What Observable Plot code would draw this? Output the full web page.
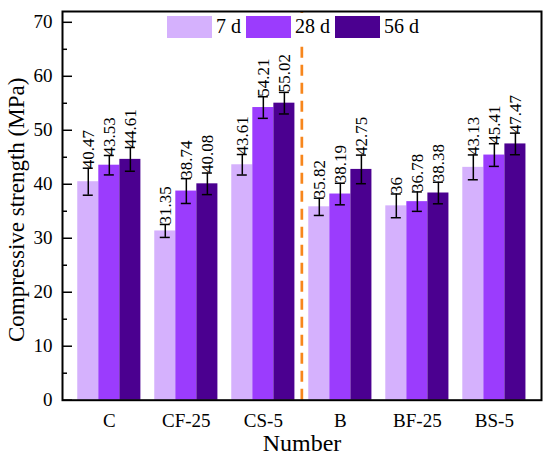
<!DOCTYPE html>
<html><head><meta charset="utf-8">
<script src="https://cdn.jsdelivr.net/npm/d3@7"></script>
<script src="https://cdn.jsdelivr.net/npm/@observablehq/plot@0.6"></script>
<style>
body{margin:0;background:#fff;}
#wrap{position:relative;width:550px;height:459px;}
#legend{position:absolute;left:164px;top:13px;height:27px;background:#fff;display:flex;align-items:center;font-family:"Liberation Serif",serif;font-size:20px;padding:0 3px;color:#000;}
.sw{width:45px;height:22px;display:inline-block;margin-right:4px;}
.lab{margin-right:5px;white-space:nowrap;}
</style></head><body><div id="wrap"></div>
<script>
const groups = ["C","CF-25","CS-5","B","BF-25","BS-5"];
const seriesNames = ["7 d","28 d","56 d"];
const colors = ["#d5b1fd","#9b3cfd","#4b0090"];
const s7  = [40.47, 31.35, 43.61, 35.82, 36, 43.13];
const s28 = [43.53, 38.74, 54.21, 38.19, 36.78, 45.41];
const s56 = [44.61, 40.08, 55.02, 42.75, 38.38, 47.47];
const e7  = [2.5, 1.2, 1.9, 1.6, 2.2, 2.3];
const e28 = [1.8, 2.3, 2.0, 2.0, 1.8, 2.1];
const e56 = [2.2, 2.0, 2.0, 2.65, 2.0, 2.0];
const yTicks = [0,10,20,30,40,50,60,70];
const yMinor = [5,15,25,35,45,55,65];

const values = [s7, s28, s56], errs = [e7, e28, e56];
const groupW = 0.82;
const xDomain = [-0.608, 5.612];
const data = [];
seriesNames.forEach((s, si) => groups.forEach((g, gi) => {
  const x1 = gi - groupW/2 + si*groupW/3;
  data.push({g, s, gi, si, v: values[si][gi], e: errs[si][gi], x1, x2: x1 + groupW/3, xc: x1 + groupW/6});
}));

const font = "Liberation Serif, serif";
const plot = Plot.plot({
  width: 550, height: 459,
  marginLeft: 62, marginRight: 9, marginTop: 11, marginBottom: 59.3,
  style: {fontFamily: font, fontSize: "19px", background: "#fff", color: "#000"},
  x: {domain: xDomain, axis: null},
  y: {domain: [0, 72], axis: null},
  color: {domain: seriesNames, range: colors},
  marks: [
    Plot.ruleX([2.5], {y1: 0, y2: 72, stroke: "#f7861c", strokeWidth: 2.7, strokeDasharray: "11,7"}),
    Plot.rectY(data, {x1: "x1", x2: "x2", y1: 0, y2: "v", fill: "s"}),
    Plot.ruleX(data, {x: "xc", y1: d => d.v - d.e, y2: d => d.v + d.e, stroke: "#000", strokeWidth: 1.5}),
    Plot.ruleY(data, {y: d => d.v + d.e, x1: d => d.xc - 0.065, x2: d => d.xc + 0.065, stroke: "#000", strokeWidth: 1.5}),
    Plot.ruleY(data, {y: d => d.v - d.e, x1: d => d.xc - 0.065, x2: d => d.xc + 0.065, stroke: "#000", strokeWidth: 1.5}),
    Plot.text(data, {x: "xc", y: d => d.v + d.e, text: d => String(d.v), rotate: -90, textAnchor: "start", fontSize: 17, fill: "#000"}),
    Plot.ruleY(yTicks, {y: d => d, x1: xDomain[0], x2: xDomain[0] + 0.13, stroke: "#000", strokeWidth: 1.5}),
    Plot.ruleY(yMinor, {y: d => d, x1: xDomain[0], x2: xDomain[0] + 0.065, stroke: "#000", strokeWidth: 1.5}),
    Plot.axisY({ticks: yTicks, tickSize: 0, tickPadding: 10, fontSize: 19, label: null}),
    Plot.axisX({ticks: [0,1,2,3,4,5], tickFormat: i => groups[i], tickSize: 0, tickPadding: 13, fontSize: 19, label: null}),
    Plot.text(["Number"], {frameAnchor: "bottom", lineAnchor: "middle", textAnchor: "middle", dy: 43, fontSize: 24, fill: "#000"}),
    Plot.text(["Compressive strength (MPa)"], {frameAnchor: "left", rotate: -90, textAnchor: "middle", lineAnchor: "middle", dx: -46, dy: 4, fontSize: 23, fill: "#000"}),
    Plot.frame({stroke: "#000", strokeWidth: 2})
  ]
});
const wrap = document.getElementById("wrap");
wrap.appendChild(plot);
const leg = document.createElement("div");
leg.id = "legend";
seriesNames.forEach((s, i) => {
  const sw = document.createElement("span");
  sw.className = "sw"; sw.style.background = colors[i];
  const lb = document.createElement("span");
  lb.className = "lab"; lb.textContent = s;
  leg.appendChild(sw); leg.appendChild(lb);
});
wrap.appendChild(leg);
</script></body></html>
